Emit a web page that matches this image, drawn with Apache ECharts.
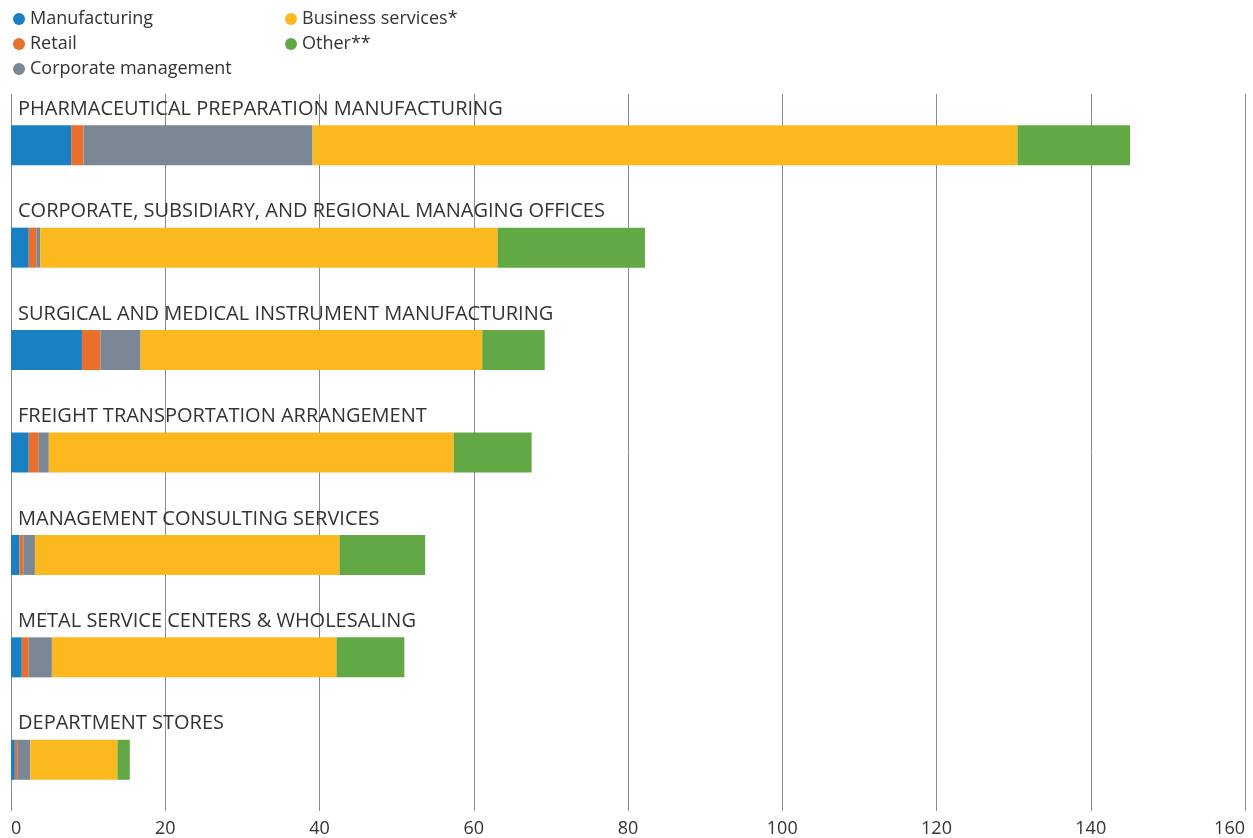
<!DOCTYPE html>
<html>
<head>
<meta charset="utf-8">
<script src="https://cdn.jsdelivr.net/npm/echarts@6/dist/echarts.min.js"></script>
<style>
  html, body { margin: 0; padding: 0; background: #fff; }
  #chart { width: 1253px; height: 838px; }
</style>
</head>
<body>
<div id="chart"></div>
<script>
// industries, top to bottom
var categories = [
  'PHARMACEUTICAL PREPARATION MANUFACTURING',
  'CORPORATE, SUBSIDIARY, AND REGIONAL MANAGING OFFICES',
  'SURGICAL AND MEDICAL INSTRUMENT MANUFACTURING',
  'FREIGHT TRANSPORTATION ARRANGEMENT',
  'MANAGEMENT CONSULTING SERVICES',
  'METAL SERVICE CENTERS & WHOLESALING',
  'DEPARTMENT STORES'
]
var manufacturing = [7.8, 2.3, 9.2, 2.3, 1.1, 1.4, 0.5]
var retail = [1.6, 1.0, 2.4, 1.3, 0.5, 0.9, 0.3]
var corporate = [29.7, 0.5, 5.2, 1.3, 1.5, 3.0, 1.7]
var business = [91.4, 59.3, 44.3, 52.5, 39.5, 36.9, 11.3]
var other = [14.6, 19.1, 8.1, 10.1, 11.1, 8.8, 1.6]
var xTicks = [0, 20, 40, 60, 80, 100, 120, 140, 160]

var font = '"Open Sans", Lato, sans-serif'
var myChart = echarts.init(document.getElementById('chart'))

function bar(name, data, color) {
  return {
    name: name,
    type: 'bar',
    stack: 'total',
    barWidth: 40,
    itemStyle: { color: color },
    emphasis: { disabled: true },
    data: data
  }
}

var legendText = { fontSize: 18, color: '#333', fontFamily: font }

var option = {
  animation: false,
  backgroundColor: '#fff',
  textStyle: { fontFamily: font },
  legend: [
    {
      orient: 'vertical',
      left: 8,
      top: 5,
      icon: 'circle',
      itemWidth: 12,
      itemHeight: 12,
      itemGap: 7,
      textStyle: legendText,
      data: ['Manufacturing', 'Retail', 'Corporate management']
    },
    {
      orient: 'vertical',
      left: 280,
      top: 5,
      icon: 'circle',
      itemWidth: 12,
      itemHeight: 12,
      itemGap: 7,
      textStyle: legendText,
      data: ['Business services*', 'Other**']
    }
  ],
  grid: { left: 11, right: 8, top: 94, bottom: 27, containLabel: false, outerBoundsMode: 'none' },
  xAxis: {
    type: 'value',
    min: xTicks[0],
    max: xTicks[xTicks.length - 1],
    interval: 20,
    axisLine: { show: false },
    axisTick: { show: false },
    splitLine: { show: true, lineStyle: { color: '#8a8a8a', width: 1 } },
    axisLabel: {
      fontSize: 18,
      color: '#333',
      margin: 9,
      fontFamily: font,
      alignMinLabel: 'left',
      alignMaxLabel: 'right'
    }
  },
  yAxis: {
    type: 'category',
    inverse: true,
    data: categories,
    axisLine: { show: false },
    axisTick: { show: false },
    axisLabel: {
      inside: true,
      margin: 7,
      align: 'left',
      verticalAlign: 'bottom',
      padding: [0, 0, 26, 0],
      fontSize: 20,
      color: '#333',
      fontFamily: font
    }
  },
  series: [
    bar('Manufacturing', manufacturing, '#1a80c4'),
    bar('Retail', retail, '#ea6f2d'),
    bar('Corporate management', corporate, '#7b8794'),
    bar('Business services*', business, '#fbb91f'),
    bar('Other**', other, '#62a844')
  ]
}
myChart.setOption(option, true)
</script>
</body>
</html>
